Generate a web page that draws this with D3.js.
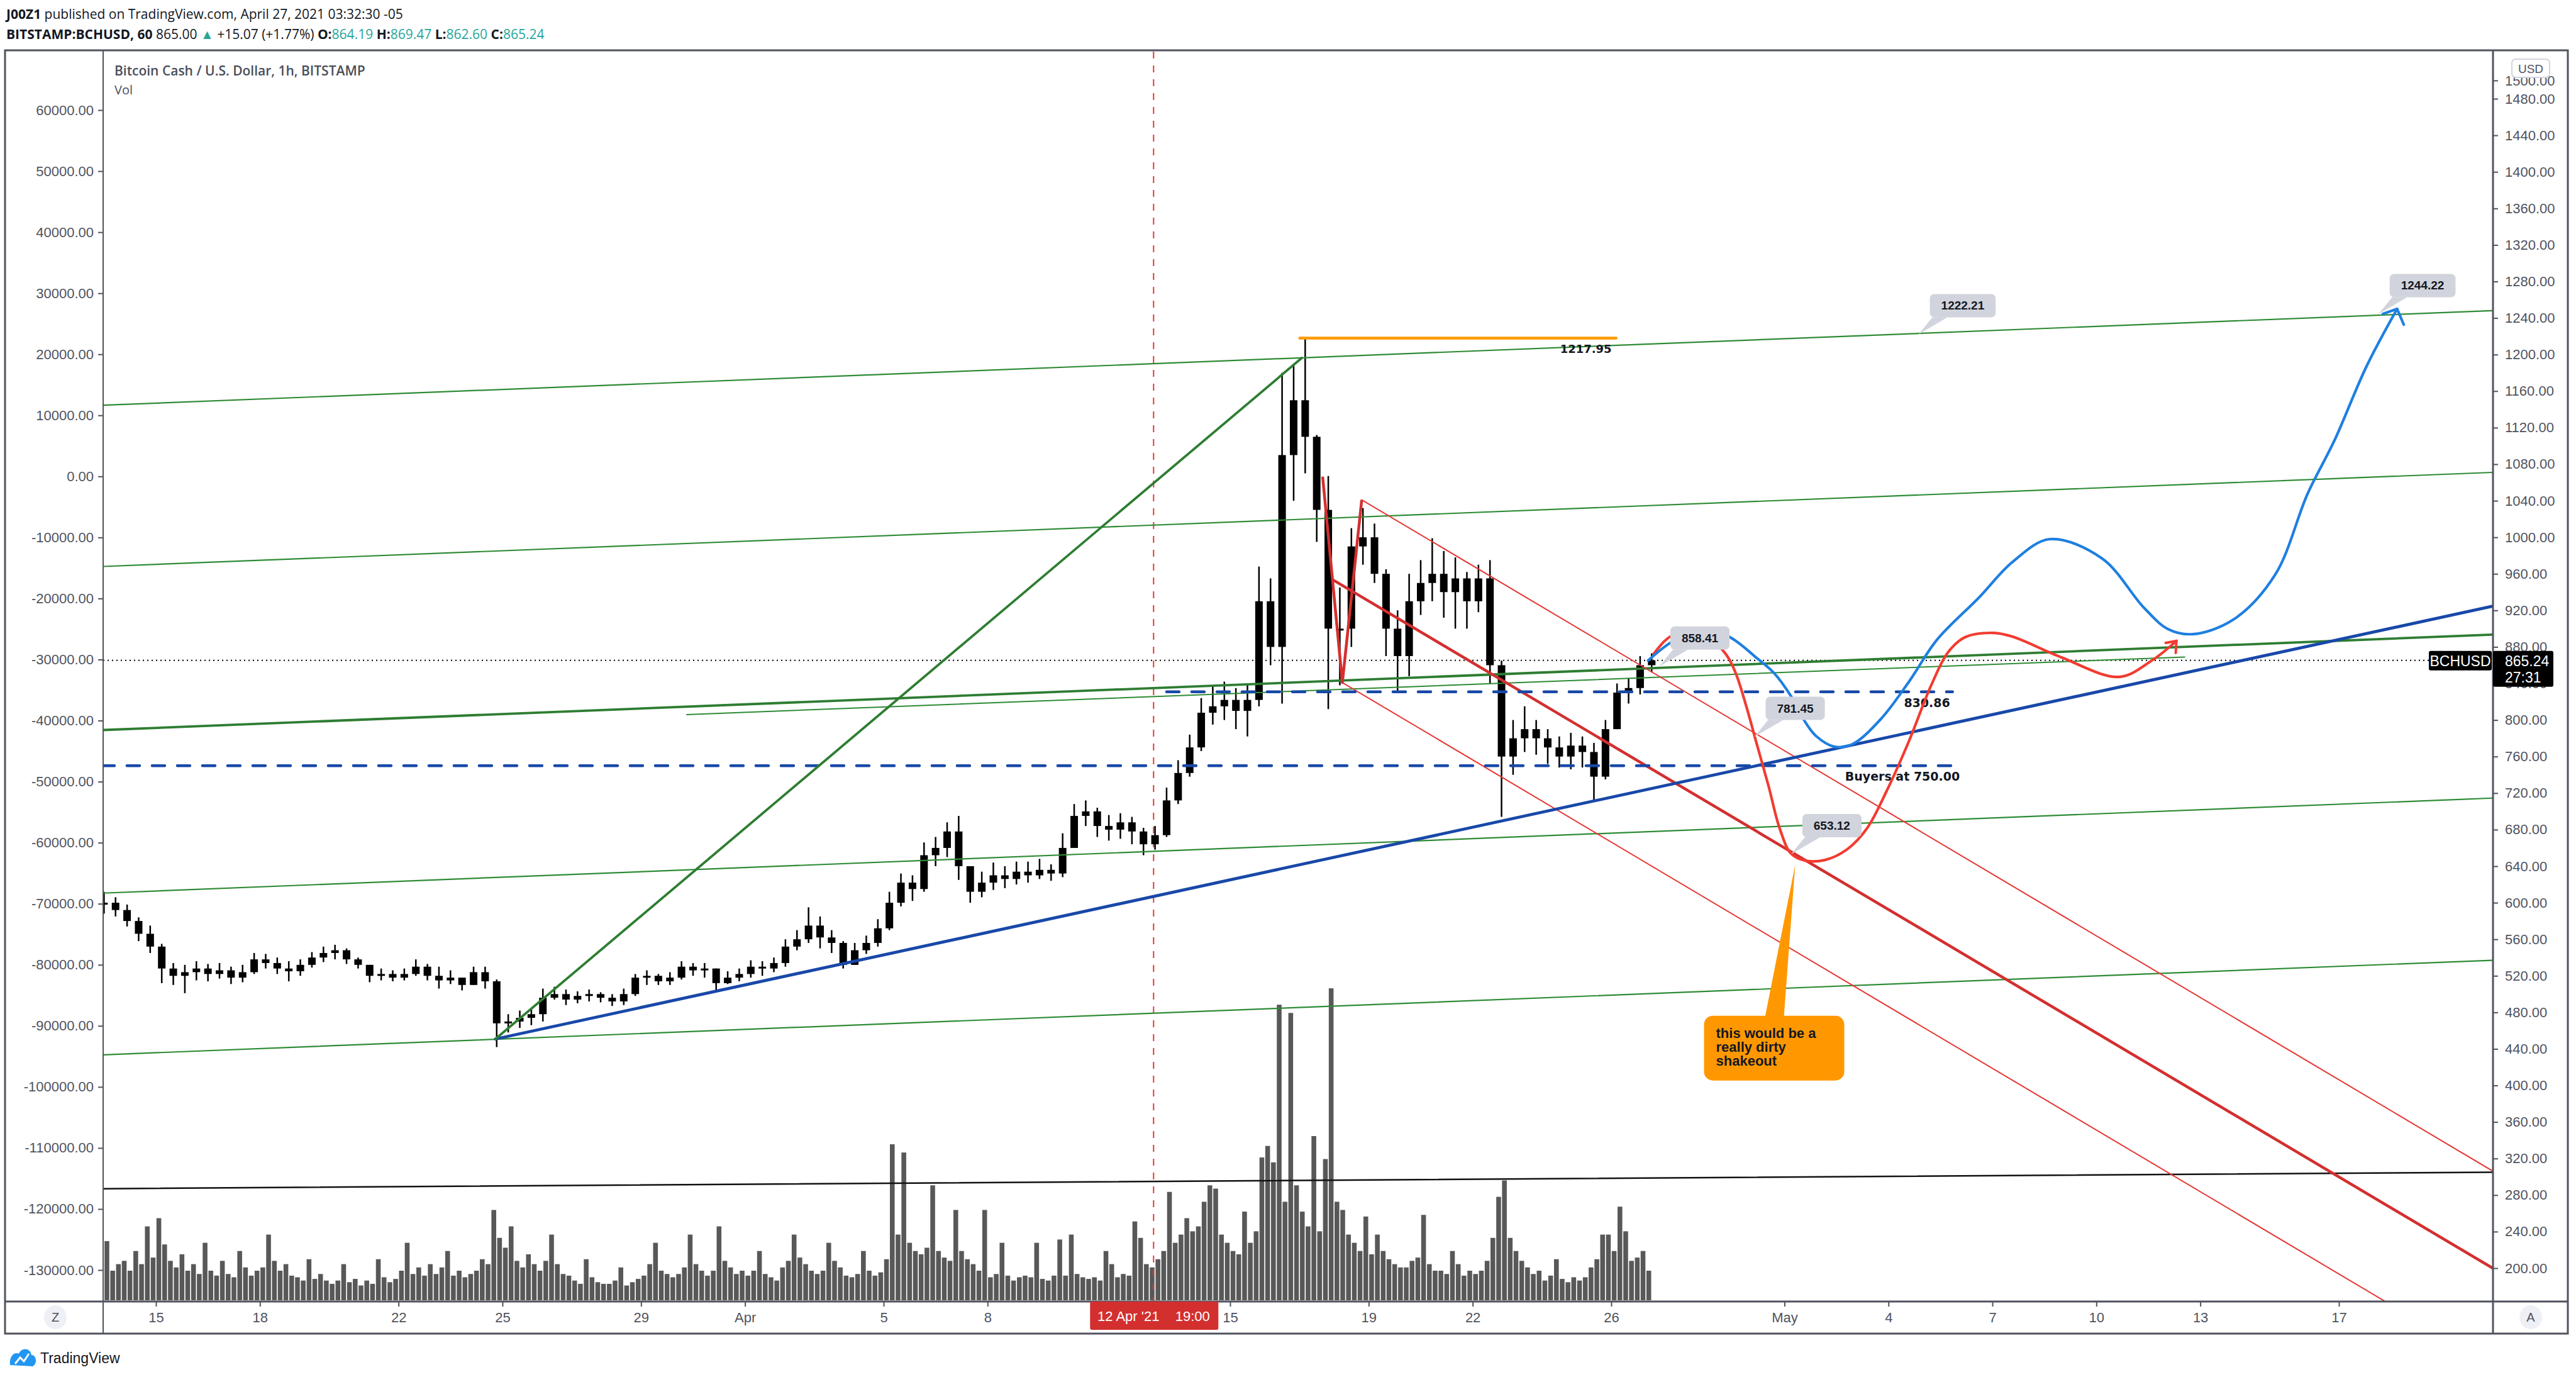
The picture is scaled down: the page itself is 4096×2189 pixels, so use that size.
<!DOCTYPE html>
<html>
<head>
<meta charset="utf-8">
<script src="https://cdn.jsdelivr.net/npm/d3@7"></script>
<style>
  body { margin: 0; background: #fff; }
  text { font-family: "Liberation Sans", Arial, sans-serif; }
</style>
</head>
<body>
<div id="chart"></div>
<script>
var W = 4096, H = 2189;
var plot = {left: 164, right: 3963, top: 82, bottom: 2068};
var parseTime = d3.utcParse("%Y-%m-%d %H:%M");

// 8h candles (open = previous close)
var candleStart = "2021-03-13 08:00";
var candleHours = 8;
var firstOpen = 598;
var closes = [600,592,580,566,552, 528,520,524,528,522, 526,518,524,538,534, 528,525,532,540,545,
  548,538,532,520,522, 518,522,530,520,515, 518,510,524,514,468, 470,474,478,496,500,
  494,498,500,496,492, 500,518,520,514,518, 530,526,528,512,518, 522,530,528,534,552,
  560,575,562,556,532, 548,556,572,600,622, 615,652,660,678,640, 612,622,630,626,634,
  630,636,632,660,695, 700,684,680,688,678, 664,674,712,742,770, 808,815,822,810,822,
  930,880,1090,1150,1110, 1030,900,900,990,1000, 960,900,870,930,950, 960,940,955,930,955,
  860,760,780,790,780, 770,760,772,765,738, 790,830,835,860,865.24];
var highs = [612,606,598,584,575, 555,534,532,536,533, 534,530,532,545,544, 540,536,538,546,552,
  554,550,540,531,528, 526,528,538,533,530, 526,516,530,530,516, 478,482,484,506,508,
  505,503,505,502,500, 506,522,526,522,524, 536,534,534,528,525, 528,537,536,540,560,
  570,595,585,570,558, 556,564,582,612,632, 630,666,672,688,695, 640,634,644,640,645,
  645,648,642,676,708, 712,704,696,698,694, 682,684,726,756,784, 824,838,842,835,840,
  968,955,1180,1190,1218, 1112,1067,945,1010,1032, 1015,965,920,960,975, 999,985,978,962,970,
  975,865,800,815,800, 790,782,786,782,775, 800,840,846,870,873];
var lows = [588,585,574,558,545, 512,510,501,515,514, 517,511,513,522,528, 522,514,520,529,535,
  538,533,528,513,515, 514,515,520,515,506, 511,504,512,506,442, 458,463,466,470,494,
  488,490,492,491,487, 488,498,510,510,510, 516,520,518,502,511, 514,518,520,524,530,
  548,556,550,545,528, 532,544,552,570,596, 602,612,640,650,625, 600,606,614,616,620,
  622,626,624,628,660, 684,672,668,670,664, 652,658,672,708,738, 766,795,800,790,782,
  815,860,818,1040,1070, 995,812,838,880,970, 950,870,832,848,915, 930,912,900,900,918,
  840,694,740,765,762, 752,748,746,748,712, 735,790,818,828,852];

// volume, 4h buckets, one row per day
var volStart = "2021-03-13 08:00";
var volHours = 4;
var volumes = [2000,3600,1800,2200,
  2400,1800,3000,2200,4500,2600,  5000,3400,2400,2000,2800,1800,  2200,1600,3500,1800,1500,2400,
  1600,1400,3000,2000,1500,1800,  2000,4000,2400,1800,2200,1500,  1400,1200,2500,1300,1600,1200,
  1000,1200,2200,1100,1300,900,   1200,1000,2500,1400,1100,1300,  1800,3500,1600,2000,1500,2200,
  1600,2000,3000,1500,1800,1400,  1600,1800,2500,2200,5500,3800,  3200,4500,2400,2000,2800,2200,
  1800,2400,4000,2200,1600,1500,  1200,1000,2500,1400,1100,1000,  1000,1200,2000,900,1100,1300,
  1500,2200,3500,1800,1600,1400,  1600,2000,4000,2200,1800,1500,  1800,4500,2400,2000,1600,1800,
  1500,1800,3000,1600,1400,1200,  2000,2400,4000,2600,2200,1800,  1600,1800,3500,2400,2000,1500,
  1400,1600,3000,1800,1500,1700,  2500,9500,4000,9000,3500,3000,  2800,3200,7000,3000,2600,2400,
  5500,3000,2500,2200,1800,5500,  1400,1600,3500,1500,1200,1400,  1500,1400,3500,1300,1200,1500,
  3700,1500,4000,1600,1400,1300,  1400,1200,3000,2200,1400,1600,  1500,4800,3800,2200,2000,2500,
  3000,6600,3500,4000,5000,4200,  4500,6000,7000,6800,4000,3500,  3000,2800,5400,3500,4200,8700,
  9400,8400,18000,6000,17500,7000, 5400,4500,10000,4200,8600,19000, 6000,5500,4000,3500,3000,5100,
  2800,4000,3000,2500,2200,2000,  2000,2400,2600,5200,2200,1800,  1800,1600,3000,2200,1500,1800,
  1600,1800,2400,3800,6300,7300,  3800,3000,2400,2000,1600,1800,  1200,1500,2500,1300,1100,1400,
  1200,1400,2000,2500,4000,4000,  3000,5700,4200,2400,2600,3000,
  1800];

var lastPrice = 865.24;

// axes
var priceTicks = [200,240,280,320,360,400,440,480,520,560,600,640,680,720,760,800,840,880,920,960,
  1000,1040,1080,1120,1160,1200,1240,1280,1320,1360,1400,1440,1480,1500];
var leftTicks = [-130000,-120000,-110000,-100000,-90000,-80000,-70000,-60000,-50000,-40000,
  -30000,-20000,-10000,0,10000,20000,30000,40000,50000,60000];
var timeTickDates = ["2021-03-15 00:00","2021-03-18 00:00","2021-03-22 00:00","2021-03-25 00:00",
  "2021-03-29 00:00","2021-04-01 00:00","2021-04-05 00:00","2021-04-08 00:00","2021-04-15 00:00",
  "2021-04-19 00:00","2021-04-22 00:00","2021-04-26 00:00","2021-05-01 00:00","2021-05-04 00:00",
  "2021-05-07 00:00","2021-05-10 00:00","2021-05-13 00:00","2021-05-17 00:00"];
var timeTickLabels = ["15","18","22","25","29","Apr","5","8","15","19","22","26","May","4","7","10","13","17"];

// drawings: [time, price]
var channelLines = [
  [["2021-03-13 10:30", 1144.5], ["2021-05-21 10:00", 1248.0]],
  [["2021-03-13 10:30", 968.0], ["2021-05-21 10:00", 1071.0]],
  [["2021-03-13 10:30", 610.5], ["2021-05-21 10:00", 714.5]],
  [["2021-03-13 10:30", 433.5], ["2021-05-21 10:00", 537.0]]
];
var channelMid = [["2021-03-13 10:30", 789.0], ["2021-05-21 10:00", 893.5]];
var innerLine = [["2021-03-30 07:40", 806.0], ["2021-05-12 13:10", 869.0]];
var floorLine = [["2021-03-13 10:30", 287.0], ["2021-05-21 10:00", 305.0]];
var rallyLine = [["2021-03-24 19:05", 450.8], ["2021-04-17 01:40", 1196.3]];
var supportLine = [["2021-03-24 19:05", 450.8], ["2021-05-21 10:00", 924.4]];
var topLine = [["2021-04-17 00:15", 1217.95], ["2021-04-26 03:20", 1217.95]];
var fork = [["2021-04-17 16:05", 1066.4], ["2021-04-18 05:45", 841.0], ["2021-04-18 19:10", 1041.0]];
var forkEnd = "2021-05-22 00:00";
var levelFrom = ["2021-04-13 04:00", "2021-03-13 10:30"];
var levelTo = ["2021-05-05 20:25", "2021-05-06 03:10"];
var levelPrice = [830.86, 750.00];
var levelText = ["830.86", "Buyers at 750.00"];
var markerTime = "2021-04-12 19:00";

var bluePath = [["2021-04-27 01:30",865.1],["2021-04-27 16:50",884.4],["2021-04-28 12:00",899.5],
  ["2021-04-29 09:20",891.3],["2021-04-30 05:15",867.2],["2021-04-30 16:50",851.3],["2021-05-01 04:35",825.9],
  ["2021-05-01 14:10",798.3],["2021-05-01 21:50",782.5],["2021-05-02 10:35",770.8],["2021-05-02 23:00",773.5],
  ["2021-05-03 18:45",801.1],["2021-05-04 14:25",842.4],["2021-05-05 09:35",887.8],["2021-05-06 14:40",934.0],
  ["2021-05-07 13:55",973.0],["2021-05-08 15:50",998.0],["2021-05-10 04:05",976.7],["2021-05-11 08:55",923.0],
  ["2021-05-12 01:40",899.5],["2021-05-12 18:45",894.0],["2021-05-13 23:00",910.0],["2021-05-15 03:50",959.0],
  ["2021-05-16 02:25",1048.0],["2021-05-16 20:55",1106.0],["2021-05-17 19:00",1186.7],["2021-05-18 16:20",1250.0]];
var blueHead = [["2021-05-18 06:30",1244.5],["2021-05-18 16:20",1250.0],["2021-05-18 20:55",1232.8]];
var redPath = [["2021-04-27 05:15",872.0],["2021-04-27 16:50",891.3],["2021-04-28 12:00",897.5],
  ["2021-04-29 05:45",875.4],["2021-04-29 13:40",853.4],["2021-04-29 21:35",814.8],["2021-04-30 04:05",777.7],
  ["2021-04-30 13:00",727.4],["2021-04-30 20:40",681.3],["2021-05-01 04:35",653.7],["2021-05-01 14:25",646.1],
  ["2021-05-02 04:05",646.8],["2021-05-02 19:25",658.5],["2021-05-03 09:05",681.3],["2021-05-03 22:50",722.6],
  ["2021-05-04 14:25",777.7],["2021-05-05 05:30",837.6],["2021-05-05 17:15",874.1],["2021-05-06 05:00",890.6],
  ["2021-05-07 00:45",895.4],["2021-05-07 13:55",891.3],["2021-05-08 23:45",868.6],["2021-05-10 15:50",847.2],
  ["2021-05-11 14:25",865.1],["2021-05-12 07:25",886.5]];
var redHead = [["2021-05-12 00:00",884.4],["2021-05-12 07:25",886.5],["2021-05-12 07:00",873.4]];

var noteTimes = ["2021-04-27 09:05","2021-04-30 03:05","2021-05-01 04:30","2021-05-04 20:50","2021-05-18 03:20"];
var notePrices = [858.41, 781.45, 653.12, 1222.21, 1244.22];
var shakeoutAt = ["2021-05-01 07:25", 641.6];
var shakeoutText = ["this would be a", "really dirty", "shakeout"];

// scales
var x = d3.scaleUtc()
  .domain([parseTime("2021-03-15 00:00"), parseTime("2021-05-17 00:00")])
  .range([248, 3719]);
var y = d3.scaleLinear().domain([200, 1480]).range([2016, 157]);
var yLeft = d3.scaleLinear().domain([-130000, 60000]).range([2019, 175]);
var yVol = d3.scaleLinear().domain([0, 20000]).range([2067, 1545]);

var svg = d3.select("#chart").append("svg")
  .attr("width", W).attr("height", H).style("display", "block");
svg.append("rect").attr("width", W).attr("height", H).attr("fill", "#fff");

svg.append("defs").append("clipPath").attr("id", "plotClip").append("rect")
  .attr("x", plot.left).attr("y", plot.top)
  .attr("width", plot.right - plot.left).attr("height", plot.bottom - plot.top);

var gPlot = svg.append("g").attr("clip-path", "url(#plotClip)");

// volume
var v0 = parseTime(volStart);
var vw = x(d3.utcHour.offset(v0, volHours)) - x(v0);
gPlot.append("g").selectAll("rect")
  .data(volumes)
  .enter().append("rect")
  .attr("x", function(d, i) { return x(d3.utcHour.offset(v0, i * volHours)) + 0.8; })
  .attr("y", function(d) { return yVol(d); })
  .attr("width", vw - 1.6)
  .attr("height", function(d) { return yVol(0) - yVol(d); })
  .attr("fill", "#585858");

// red marker line
gPlot.append("line")
  .attr("x1", x(parseTime(markerTime))).attr("x2", x(parseTime(markerTime)))
  .attr("y1", plot.top).attr("y2", plot.bottom)
  .attr("stroke", "#e53935").attr("stroke-width", 2).attr("stroke-dasharray", "11,11");

// candles
var c0 = parseTime(candleStart);
var candles = closes.map(function(c, i) {
  return {t: d3.utcHour.offset(c0, i * candleHours + candleHours / 2),
          o: i ? closes[i - 1] : firstOpen, h: highs[i], l: lows[i], c: c};
});
var gC = gPlot.append("g");
gC.selectAll("line").data(candles).enter().append("line")
  .attr("x1", function(d) { return x(d.t); }).attr("x2", function(d) { return x(d.t); })
  .attr("y1", function(d) { return y(Math.max(d.h, d.o, d.c)); })
  .attr("y2", function(d) { return y(Math.min(d.l, d.o, d.c)); })
  .attr("stroke", "#000").attr("stroke-width", 2.5);
gC.selectAll("rect").data(candles).enter().append("rect")
  .attr("x", function(d) { return x(d.t) - 6; })
  .attr("y", function(d) { return y(Math.max(d.o, d.c)); })
  .attr("width", 12)
  .attr("height", function(d) { return Math.max(3, Math.abs(y(d.o) - y(d.c))); })
  .attr("fill", "#000");

// last price dotted line
gPlot.append("line")
  .attr("x1", plot.left).attr("x2", plot.right)
  .attr("y1", y(lastPrice)).attr("y2", y(lastPrice))
  .attr("stroke", "#000").attr("stroke-width", 2).attr("stroke-dasharray", "2,5");

var priceLine = d3.line()
  .x(function(d) { return x(parseTime(d[0])); })
  .y(function(d) { return y(d[1]); });
var msLine = d3.line()
  .x(function(d) { return x(new Date(d[0])); })
  .y(function(d) { return y(d[1]); });

function seg(pts, color, width, dash) {
  gPlot.append("path").attr("d", priceLine(pts))
    .attr("fill", "none").attr("stroke", color).attr("stroke-width", width)
    .attr("stroke-dasharray", dash || null).attr("stroke-linecap", "round");
}

seg(floorLine, "#111", 2.5);
channelLines.forEach(function(l) { seg(l, "#2e8b35", 2.2); });
seg(channelMid, "#2e7d32", 3.8);
seg(innerLine, "#2e8b35", 2);

// modified schiff pitchfork
function ms(p) { return [parseTime(p[0]).getTime(), p[1]]; }
var A = ms(fork[0]), B = ms(fork[1]), C = ms(fork[2]);
var m1 = [(A[0] + B[0]) / 2, (A[1] + B[1]) / 2];
var m2 = [(B[0] + C[0]) / 2, (B[1] + C[1]) / 2];
var slope = (m2[1] - m1[1]) / (m2[0] - m1[0]);
var tEnd = parseTime(forkEnd).getTime();
function ray(p) { return [p, [tEnd, p[1] + slope * (tEnd - p[0])]]; }
gPlot.append("path").attr("d", msLine(ray(m1))).attr("fill", "none")
  .attr("stroke", "#d32f2f").attr("stroke-width", 4.5);
[B, C].forEach(function(p) {
  gPlot.append("path").attr("d", msLine(ray(p))).attr("fill", "none")
    .attr("stroke", "#e53935").attr("stroke-width", 2);
});
gPlot.append("path").attr("d", msLine([A, B, C])).attr("fill", "none")
  .attr("stroke", "#d32f2f").attr("stroke-width", 4.5).attr("stroke-linejoin", "round");

// blue levels
levelPrice.forEach(function(p, i) {
  seg([[levelFrom[i], p], [levelTo[i], p]], "#1848a8", 4.5, "20,20");
  gPlot.append("text")
    .attr("x", x(parseTime(levelTo[i])) - 4).attr("y", y(p) + 24)
    .attr("text-anchor", "end")
    .style("font-family", "'DejaVu Sans', Verdana, sans-serif")
    .style("font-weight", "bold").style("font-size", "19px").attr("fill", "#131722")
    .text(levelText[i]);
});

seg(supportLine, "#1848a8", 4.8);
seg(rallyLine, "#2e7d32", 3.8);
seg(topLine, "#ff9800", 4.5);
gPlot.append("text")
  .attr("x", x(parseTime(topLine[1][0])) - 7).attr("y", y(topLine[1][1]) + 23)
  .attr("text-anchor", "end")
  .style("font-family", "'DejaVu Sans', Verdana, sans-serif")
  .style("font-weight", "bold").style("font-size", "18px").attr("fill", "#131722")
  .text("1217.95");

// projection curves
var smooth = d3.line()
  .x(function(d) { return x(parseTime(d[0])); })
  .y(function(d) { return y(d[1]); })
  .curve(d3.curveCatmullRom.alpha(0.5));
gPlot.append("path").attr("d", smooth(redPath)).attr("fill", "none")
  .attr("stroke", "#f23b30").attr("stroke-width", 4.2).attr("stroke-linecap", "round");
gPlot.append("path").attr("d", priceLine(redHead)).attr("fill", "none")
  .attr("stroke", "#f23b30").attr("stroke-width", 4).attr("stroke-linecap", "round");
gPlot.append("path").attr("d", smooth(bluePath)).attr("fill", "none")
  .attr("stroke", "#1e7fe0").attr("stroke-width", 4.2).attr("stroke-linecap", "round");
gPlot.append("path").attr("d", priceLine(blueHead)).attr("fill", "none")
  .attr("stroke", "#1e7fe0").attr("stroke-width", 4.2).attr("stroke-linecap", "round")
  .attr("stroke-linejoin", "round");

// gray price notes
noteTimes.forEach(function(t, i) {
  var tx = x(parseTime(t)), ty = y(notePrices[i]);
  var g = gPlot.append("g");
  var label = notePrices[i].toFixed(2);
  g.append("path")
    .attr("d", "M" + tx + "," + ty + "L" + (tx + 22) + "," + (ty - 27) + "L" + (tx + 46) + "," + (ty - 27) + "Z")
    .attr("fill", "#d1d4dc");
  var box = g.append("rect").attr("fill", "#d1d4dc").attr("rx", 7);
  var tt = g.append("text")
    .style("font-weight", "bold").style("font-size", "19px").attr("fill", "#131722")
    .attr("text-anchor", "middle").text(label);
  var w = tt.node().getComputedTextLength() + 36;
  box.attr("x", tx + 18).attr("y", ty - 64).attr("width", w).attr("height", 37);
  tt.attr("x", tx + 18 + w / 2).attr("y", ty - 39);
});

// orange note
(function() {
  var tx = x(parseTime(shakeoutAt[0])), ty = y(shakeoutAt[1]);
  var g = gPlot.append("g");
  g.append("path")
    .attr("d", "M" + tx + "," + ty + "L" + (tx - 48) + "," + (ty + 242) + "L" + (tx - 18) + "," + (ty + 242) + "Z")
    .attr("fill", "#ff9800");
  g.append("rect").attr("x", tx - 145).attr("y", ty + 240).attr("width", 223).attr("height", 103)
    .attr("rx", 14).attr("fill", "#ff9800");
  shakeoutText.forEach(function(s, i) {
    g.append("text").attr("x", tx - 126).attr("y", ty + 275 + i * 22)
      .style("font-weight", "bold").style("font-size", "22px").attr("fill", "#131722").text(s);
  });
})();

// frame and panels
var axisColor = "#50535e";
svg.append("rect").attr("x", 8).attr("y", 80).attr("width", 4075).attr("height", 2040)
  .attr("fill", "none").attr("stroke", axisColor).attr("stroke-width", 3);
svg.append("line").attr("x1", plot.left).attr("x2", plot.left).attr("y1", 80).attr("y2", 2120)
  .attr("stroke", axisColor).attr("stroke-width", 2);
svg.append("line").attr("x1", plot.right + 1).attr("x2", plot.right + 1).attr("y1", 80).attr("y2", 2120)
  .attr("stroke", axisColor).attr("stroke-width", 3);
svg.append("line").attr("x1", 8).attr("x2", 4083).attr("y1", 2069).attr("y2", 2069)
  .attr("stroke", axisColor).attr("stroke-width", 3);

function styleAxis(g) {
  g.select(".domain").remove();
  g.selectAll("line").attr("stroke", axisColor).attr("stroke-width", 2);
  g.selectAll("text").attr("fill", axisColor).style("font-size", "22px")
    .style("font-family", "'Liberation Sans', Arial, sans-serif");
}

svg.append("g")
  .attr("transform", "translate(" + (plot.right + 1) + ",0)")
  .call(d3.axisRight(y).tickValues(priceTicks).tickSize(8).tickPadding(11)
    .tickFormat(function(d) { return d.toFixed(2); }))
  .call(styleAxis);

svg.append("g")
  .attr("transform", "translate(" + plot.left + ",0)")
  .call(d3.axisLeft(yLeft).tickValues(leftTicks).tickSize(8).tickPadding(7)
    .tickFormat(function(d) { return d.toFixed(2); }))
  .call(styleAxis);

svg.append("g")
  .attr("transform", "translate(0,2069)")
  .call(d3.axisBottom(x).tickValues(timeTickDates.map(parseTime)).tickSize(8).tickPadding(9)
    .tickFormat(function(d, i) { return timeTickLabels[i]; }))
  .call(styleAxis);

// time marker label
var mx = x(parseTime(markerTime));
svg.append("rect").attr("x", mx - 101).attr("y", 2069).attr("width", 204).attr("height", 45)
  .attr("fill", "#d32f2f").attr("rx", 3);
svg.append("text").attr("x", mx - 40).attr("y", 2100).attr("text-anchor", "middle")
  .attr("fill", "#fff").style("font-size", "22px").text("12 Apr '21");
svg.append("text").attr("x", mx + 62).attr("y", 2100).attr("text-anchor", "middle")
  .attr("fill", "#fff").style("font-size", "22px").text("19:00");

// last price tags
var ly = y(lastPrice);
svg.append("rect").attr("x", 3862).attr("y", ly - 15).attr("width", 100).attr("height", 31)
  .attr("rx", 3).attr("fill", "#000");
svg.append("text").attr("x", 3912).attr("y", ly + 9).attr("text-anchor", "middle")
  .attr("fill", "#fff").style("font-size", "23px").text("BCHUSD");
svg.append("rect").attr("x", plot.right + 1).attr("y", ly - 15).attr("width", 96).attr("height", 57)
  .attr("rx", 3).attr("fill", "#000");
svg.append("text").attr("x", 3983).attr("y", ly + 9).attr("fill", "#fff")
  .style("font-size", "23px").text(lastPrice.toFixed(2));
svg.append("text").attr("x", 3983).attr("y", ly + 35).attr("fill", "#fff")
  .style("font-size", "23px").text("27:31");

// USD, Z, A buttons
svg.append("rect").attr("x", 3994).attr("y", 94).attr("width", 60).attr("height", 29).attr("rx", 6)
  .attr("fill", "#fff").attr("stroke", "#d1d4dc").attr("stroke-width", 2);
svg.append("text").attr("x", 4024).attr("y", 116).attr("text-anchor", "middle")
  .attr("fill", axisColor).style("font-size", "19px").text("USD");
[[88, "Z"], [4024, "A"]].forEach(function(b) {
  svg.append("ellipse").attr("cx", b[0]).attr("cy", 2094).attr("rx", 18).attr("ry", 19).attr("fill", "#eef0f5");
  svg.append("text").attr("x", b[0]).attr("y", 2101).attr("text-anchor", "middle")
    .attr("fill", axisColor).style("font-size", "20px").text(b[1]);
});

// titles
svg.append("text").attr("x", 182).attr("y", 120).attr("fill", "#4a4e5a")
  .style("font-family", "'Open Sans', sans-serif").style("font-weight", "600").style("font-size", "21px")
  .text("Bitcoin Cash / U.S. Dollar, 1h, BITSTAMP");
svg.append("text").attr("x", 182).attr("y", 150).attr("fill", "#4a4e5a")
  .style("font-family", "'Open Sans', sans-serif").style("font-size", "20px").text("Vol");

var head1 = svg.append("text").attr("x", 10).attr("y", 30).attr("fill", "#131722")
  .style("font-family", "'Open Sans', sans-serif").style("font-size", "21px");
head1.append("tspan").style("font-weight", "bold").text("J00Z1");
head1.append("tspan").text(" published on TradingView.com, April 27, 2021 03:32:30 -05");

var teal = "#26a69a";
var head2 = svg.append("text").attr("x", 10).attr("y", 62).attr("fill", "#131722")
  .style("font-family", "'Open Sans', sans-serif").style("font-size", "21px");
[["BITSTAMP:BCHUSD, 60", "bold", null], [" 865.00 ", null, null], ["\u25B2", null, teal],
 [" +15.07 (+1.77%) ", null, null], ["O:", "bold", null], ["864.19", null, teal], [" H:", "bold", null],
 ["869.47", null, teal], [" L:", "bold", null], ["862.60", null, teal], [" C:", "bold", null], ["865.24", null, teal]]
  .forEach(function(p) {
    var ts = head2.append("tspan").text(p[0]);
    if (p[1]) ts.style("font-weight", p[1]);
    if (p[2]) ts.attr("fill", p[2]);
  });

// TradingView logo
var logo = svg.append("g").attr("transform", "translate(14,2140)");
logo.append("path")
  .attr("d", "M2,30 C0,18 8,8 16,12 C20,2 34,2 36,14 C44,14 46,28 38,32 Z")
  .attr("fill", "#2196f3");
logo.append("path").attr("d", "M10,28 L18,18 L24,24 L32,12").attr("fill", "none")
  .attr("stroke", "#fff").attr("stroke-width", 3);
svg.append("text").attr("x", 64).attr("y", 2167).attr("fill", "#131722")
  .style("font-size", "23px").text("TradingView");
</script>
</body>
</html>
